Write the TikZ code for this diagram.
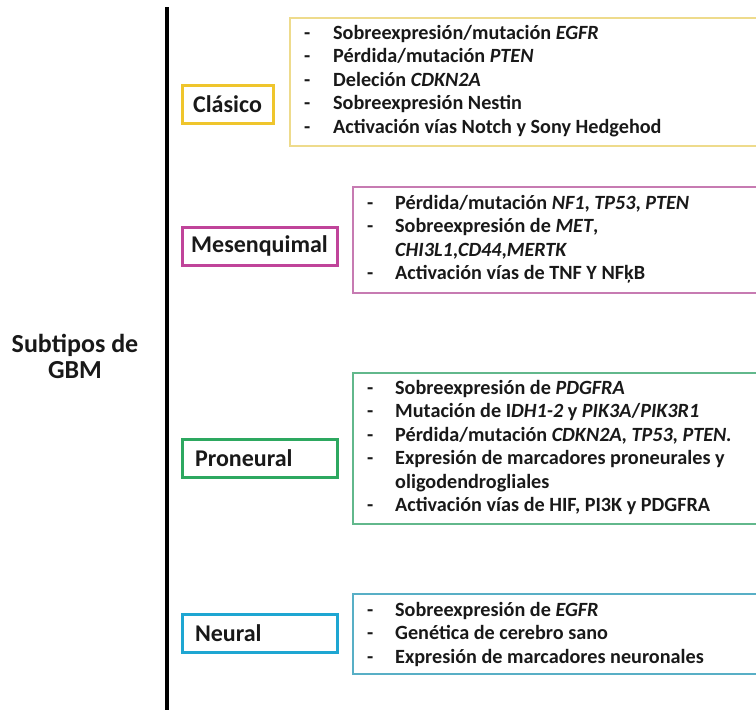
\documentclass[tikz,border=0pt]{standalone}
\usepackage{fontspec}
\setmainfont{Carlito}
\definecolor{yelA}{HTML}{EFC52C}
\definecolor{yelB}{HTML}{EEDB8C}
\definecolor{magA}{HTML}{C0449A}
\definecolor{magB}{HTML}{C77BB2}
\definecolor{grnA}{HTML}{2DA860}
\definecolor{grnB}{HTML}{62B88C}
\definecolor{cyaA}{HTML}{1EA6D2}
\definecolor{cyaB}{HTML}{58AFC6}
\begin{document}
\begin{tikzpicture}[x=1pt,y=-1pt,
 labelbox/.style={draw, line width=3pt, font=\fontsize{24}{28}\selectfont\bfseries, inner sep=0pt, minimum height=38pt, text=black!90},
 listbox/.style={draw, line width=1.6pt, anchor=north west, minimum width=520pt, inner sep=0pt},
 listtext/.style={anchor=base west, inner sep=0pt, font=\fontsize{20.2}{23.5}\selectfont\bfseries, text=black!90},
 titletext/.style={anchor=base, inner sep=0pt, font=\fontsize{26}{28}\selectfont\bfseries, text=black!90},
]
\useasboundingbox (0,0) rectangle (756,710);
\clip (0,0) rectangle (756,710);

% vertical bar
\coordinate (ltop) at (167,7);
\coordinate (lbot) at (167,712);
\draw[line width=4pt] (ltop) -- (lbot);

% title
\node[titletext] (title1) at (75,352) {Subtipos de};
\node[titletext] (title2) at (75,378) {GBM};

% Clasico
\node[labelbox, draw=yelA, minimum width=91pt] (clasico) at (227.5,104) {Clásico};
\node[listbox, draw=yelB, minimum height=128pt] (clasicoC) at (289,17) {};
\node[listtext] (clasicoT) at (304,39) {\begin{tabular}[t]{@{}p{29pt}@{}l@{}}
-&Sobreexpresión/mutación \textit{EGFR}\\
-&Pérdida/mutación \textit{PTEN}\\
-&Deleción \textit{CDKN2A}\\
-&Sobreexpresión Nestin\\
-&Activación vías Notch y Sony Hedgehod
\end{tabular}};

% Mesenquimal
\node[labelbox, draw=magA, minimum width=155pt] (mesen) at (259.5,246) {Mesenquimal};
\node[listbox, draw=magB, minimum height=106pt] (mesenC) at (352,186) {};
\node[listtext] (mesenT) at (367,209) {\begin{tabular}[t]{@{}p{28pt}@{}l@{}}
-&Pérdida/mutación \textit{NF1}, \textit{TP53}, \textit{PTEN}\\
-&Sobreexpresión de \textit{MET},\\
&\textit{CHI3L1},\textit{CD44},\textit{MERTK}\\
-&Activación vías de TNF Y NFķB
\end{tabular}};

% Proneural
\node[labelbox, draw=grnA, text width=129pt, inner xsep=13pt, align=left] (pron) at (259.5,458) {Proneural};
\node[listbox, draw=grnB, minimum height=151pt] (pronC) at (352,372) {};
\node[listtext] (pronT) at (367,394) {\begin{tabular}[t]{@{}p{28pt}@{}l@{}}
-&Sobreexpresión de \textit{PDGFRA}\\
-&Mutación de I\textit{DH1-2} y \textit{PIK3A}/\textit{PIK3R1}\\
-&Pérdida/mutación \textit{CDKN2A}, \textit{TP53}, \textit{PTEN.}\\
-&Expresión de marcadores proneurales y\\
&oligodendrogliales\\
-&Activación vías de HIF, PI3K y PDGFRA
\end{tabular}};

% Neural
\node[labelbox, draw=cyaA, text width=129pt, inner xsep=13pt, align=left] (neur) at (259.5,633.5) {Neural};
\node[listbox, draw=cyaB, minimum height=80pt] (neurC) at (352,593) {};
\node[listtext] (neurT) at (367,616) {\begin{tabular}[t]{@{}p{28pt}@{}l@{}}
-&Sobreexpresión de \textit{EGFR}\\
-&Genética de cerebro sano\\
-&Expresión de marcadores neuronales
\end{tabular}};
\end{tikzpicture}
\end{document}
